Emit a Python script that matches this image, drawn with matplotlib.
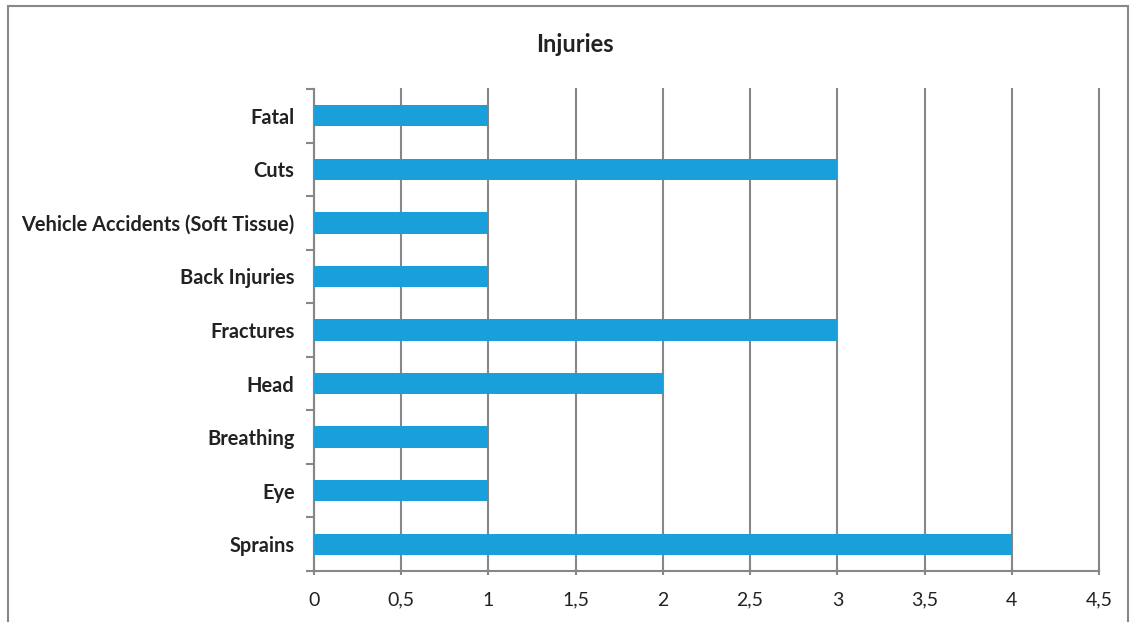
import matplotlib.pyplot as plt
from matplotlib.patches import Rectangle

categories = ["Sprains", "Eye", "Breathing", "Head", "Fractures", "Back Injuries",
              "Vehicle Accidents (Soft Tissue)", "Cuts", "Fatal"]
values = [4, 1, 1, 2, 3, 1, 1, 3, 1]
xticks = [0, 0.5, 1, 1.5, 2, 2.5, 3, 3.5, 4, 4.5]
xtick_labels = ["0", "0,5", "1", "1,5", "2", "2,5", "3", "3,5", "4", "4,5"]

plt.rcParams['font.family'] = ['Lato', 'DejaVu Sans']
grey = '#878787'

fig = plt.figure(figsize=(11.31, 6.22), dpi=100)
ax = fig.add_axes([314 / 1131, 1 - 571 / 622, (1099 - 314) / 1131, (571 - 89) / 622])

ypos = list(range(len(categories)))
ax.barh(ypos, values, height=0.4, color='#199FD9', zorder=3)

ax.set_xlim(0, 4.5)
ax.set_ylim(-0.5, len(categories) - 0.5)
ax.set_xticks(xticks)
ax.set_xticklabels(xtick_labels, fontsize=14, color='#222222')
ax.set_yticks(ypos)
ax.set_yticklabels(categories, fontsize=14.4, fontweight='bold', color='#222222')
ax.set_yticks([y - 0.5 for y in range(len(categories) + 1)], minor=True)
ax.tick_params(axis='y', which='major', length=0, pad=14)
ax.tick_params(axis='y', which='minor', length=6, width=1.5, color=grey)
ax.tick_params(axis='x', which='major', length=6, width=1.5, color=grey,
               direction='inout', pad=12)

ax.grid(axis='x', color=grey, linewidth=1.5, zorder=0)
for line in ax.get_xgridlines():
    line.set_clip_on(False)
for side in ['top', 'right']:
    ax.spines[side].set_visible(False)
for side in ['left', 'bottom']:
    ax.spines[side].set_color(grey)
    ax.spines[side].set_linewidth(1.5)

fig.text(575 / 1131, 1 - 44 / 622, "Injuries", ha='center', va='center',
         fontsize=17, fontweight='bold', color='#222222')

fig.patches.append(Rectangle((8 / 1131, -0.1), (1128 - 8) / 1131, 1.1 - 6 / 622,
                             transform=fig.transFigure, fill=False,
                             edgecolor='#888888', linewidth=1.5))

fig.savefig("out.png", dpi=100)
